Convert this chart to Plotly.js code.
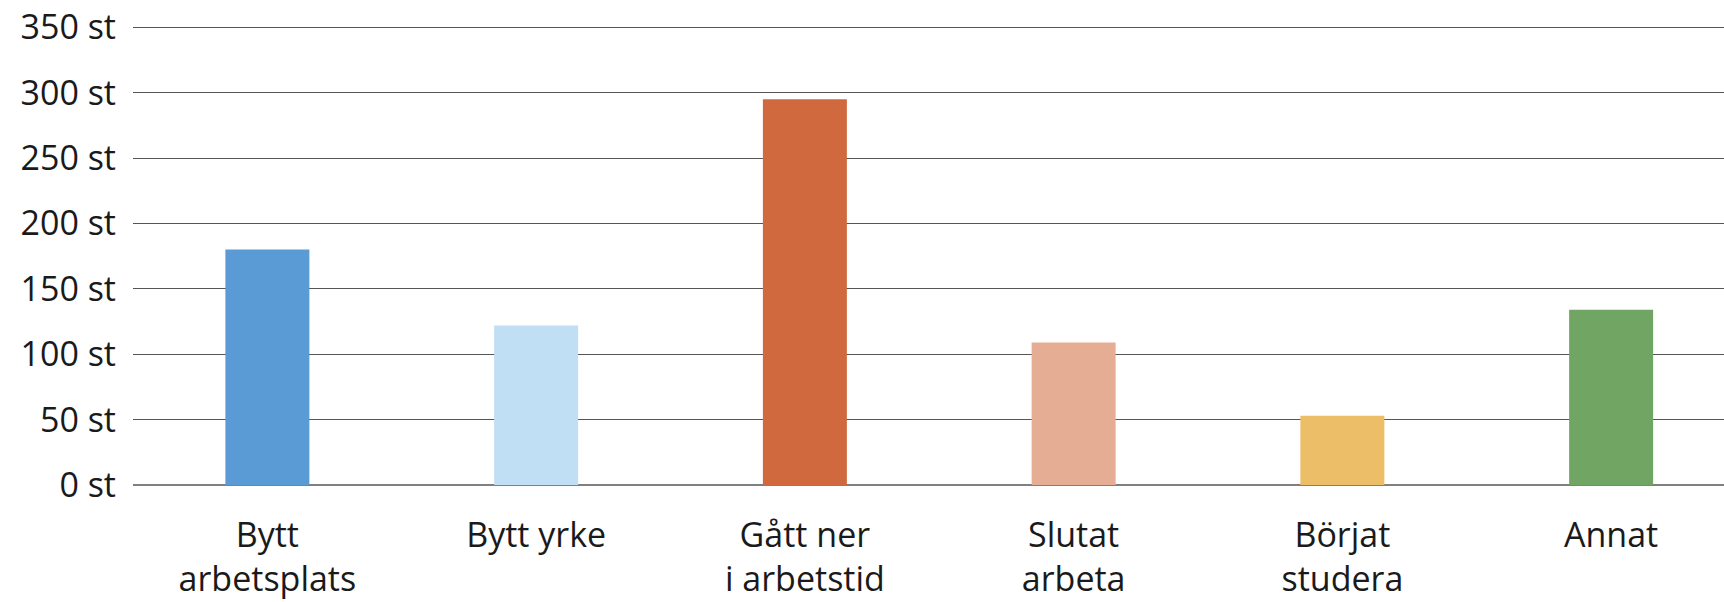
<!DOCTYPE html>
<html>
<head>
<meta charset="utf-8">
<script src="https://cdn.plot.ly/plotly-3.0.1.min.js"></script>
<style>html,body{margin:0;padding:0;background:#fff;}#chart{width:1724px;height:602px;}</style>
</head>
<body>
<div id="chart"></div>
<script>
const categories = ["Bytt<br>arbetsplats", "Bytt yrke", "Gått ner<br>i arbetstid", "Slutat<br>arbeta", "Börjat<br>studera", "Annat"];
const values = [180, 122, 295, 109, 53, 134];
const barColors = ["#5B9BD5", "#C0DFF5", "#D06A3E", "#E5AD93", "#EBBE67", "#71A563"];
const yTickVals = [0, 50, 100, 150, 200, 250, 300, 350];
const yTickText = yTickVals.map(v => v + " st");

const trace = {
  type: "bar",
  x: [0, 1, 2, 3, 4, 5],
  y: values,
  marker: {color: barColors, line: {width: 0}},
  hoverinfo: "none"
};

const layout = {
  width: 1724,
  height: 602,
  margin: {l: 132.6, r: 0, t: 26.4, b: 117},
  paper_bgcolor: "#ffffff",
  plot_bgcolor: "#ffffff",
  showlegend: false,
  bargap: 0.6875,
  font: {family: "Open Sans, sans-serif", size: 34, color: "#1a1a1a"},
  xaxis: {
    range: [-0.5, 5.42],
    tickmode: "array",
    tickvals: [0, 1, 2, 3, 4, 5],
    ticktext: categories,
    showgrid: false,
    zeroline: false,
    showline: false,
    ticks: "",
    ticklabelstandoff: 27,
    fixedrange: true
  },
  yaxis: {
    range: [0, 351],
    tickmode: "array",
    tickvals: yTickVals,
    ticktext: yTickText,
    showgrid: true,
    gridcolor: "#555555",
    gridwidth: 1,
    zeroline: true,
    zerolinecolor: "#808080",
    zerolinewidth: 1.5,
    showline: false,
    ticks: "",
    ticklabelstandoff: 16,
    fixedrange: true
  }
};

Plotly.newPlot("chart", [trace], layout, {displayModeBar: false, staticPlot: true});
</script>
</body>
</html>
